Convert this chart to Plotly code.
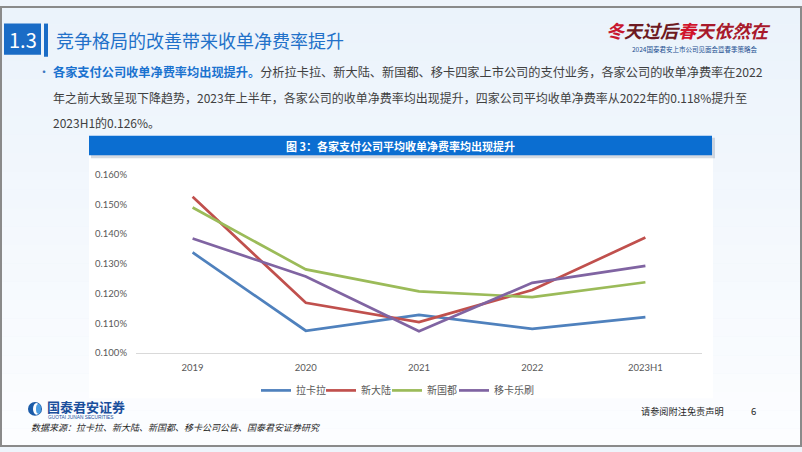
import plotly.graph_objects as go

# ---------------- data ----------------
categories = ["2019", "2020", "2021", "2022", "2023H1"]
series_names = ["拉卡拉", "新大陆", "新国都", "移卡乐刷"]
lakala = [0.1338, 0.1075, 0.1128, 0.1081, 0.1121]
xindalu = [0.1525, 0.1169, 0.1104, 0.1212, 0.1388]
xinguodu = [0.1489, 0.1281, 0.1207, 0.1188, 0.1238]
yika = [0.1385, 0.1257, 0.1073, 0.1236, 0.1293]
y_ticks = [0.100, 0.110, 0.120, 0.130, 0.140, 0.150, 0.160]
y_tick_labels = ["%.3f%%" % v for v in y_ticks]

series_values = [lakala, xindalu, xinguodu, yika]
series_colors = ["#4F81BD", "#C0504D", "#9BBB59", "#8064A2"]

W, H = 802, 452


def px(x):
    return x / W


def py(y):
    return 1 - y / H


CJK = "Noto Sans CJK SC"
AX = "#595959"

legend_ids = ["legend", "legend2", "legend3", "legend4"]
legend_text_x = [298, 363, 429, 496]

fig = go.Figure()
for name, vals, col, lid in zip(series_names, series_values, series_colors, legend_ids):
    fig.add_trace(go.Scatter(
        x=categories, y=vals, name=name, mode="lines",
        line=dict(color=col, width=2.7),
        hoverinfo="skip", legend=lid,
    ))

shapes = []
# background gradient bands (light blue top -> near white bottom)
nb = 24
top = (235, 243, 251)
bot = (252, 253, 255)
for i in range(nb):
    t = i / (nb - 1)
    c = tuple(round(top[k] + (bot[k] - top[k]) * t) for k in range(3))
    shapes.append(dict(type="rect", xref="paper", yref="paper", layer="below",
                       x0=0, x1=1, y0=py(H * (i + 1) / nb), y1=py(H * i / nb),
                       line=dict(width=0), fillcolor="rgb(%d,%d,%d)" % c))
# white chart panel
shapes.append(dict(type="rect", xref="paper", yref="paper", layer="below",
                   x0=px(89), x1=px(713), y0=py(402), y1=py(153),
                   line=dict(width=0), fillcolor="#ffffff"))
# chart title bar shadow + bar
shapes.append(dict(type="rect", xref="paper", yref="paper", layer="below",
                   x0=px(91), x1=px(715), y0=py(156), y1=py(135),
                   line=dict(width=0), fillcolor="rgba(90,110,140,0.25)"))
shapes.append(dict(type="rect", xref="paper", yref="paper", layer="below",
                   x0=px(89), x1=px(712), y0=py(153), y1=py(133),
                   line=dict(width=0), fillcolor="#0B6ED1"))
# header number box and bar
shapes.append(dict(type="rect", xref="paper", yref="paper", layer="below",
                   x0=px(4), x1=px(41), y0=py(50), y1=py(18),
                   line=dict(width=0), fillcolor="#1A6CC6"))
shapes.append(dict(type="rect", xref="paper", yref="paper", layer="below",
                   x0=px(44), x1=px(48), y0=py(52), y1=py(18),
                   line=dict(width=0), fillcolor="#1A6CC6"))
# logo icon
shapes.append(dict(type="circle", xref="paper", yref="paper",
                   x0=px(28), x1=px(42), y0=py(420), y1=py(406),
                   line=dict(width=0), fillcolor="#1B5BA8"))
shapes.append(dict(type="circle", xref="paper", yref="paper",
                   x0=px(33), x1=px(40), y0=py(419), y1=py(407),
                   line=dict(width=0), fillcolor="#ffffff"))
shapes.append(dict(type="circle", xref="paper", yref="paper",
                   x0=px(36), x1=px(41), y0=py(418), y1=py(408),
                   line=dict(width=0), fillcolor="#4A9BE0"))
# frame
shapes.append(dict(type="rect", xref="paper", yref="paper",
                   x0=px(1), x1=px(801), y0=py(451), y1=py(1),
                   line=dict(width=2, color="#8A8A8A"), fillcolor="rgba(0,0,0,0)"))

TXT = "#404040"
BLUE = "#1A72CF"
ann = []


def a(text, x, y, size, color, xanchor="left", weight=None, family=CJK, style=None):
    f = dict(family=family, size=size, color=color)
    if weight:
        f["weight"] = weight
    if style:
        f["style"] = style
    ann.append(dict(text=text, x=px(x), y=py(y), xref="paper", yref="paper",
                    xanchor=xanchor, yanchor="middle", showarrow=False, font=f))


a("1.3", 22.5, 34, 20, "#ffffff", xanchor="center")
a("竞争格局的改善带来收单净费率提升", 54, 35, 18, "#2271C9")
# event logo (top right)
a("<span style='color:#C8172F'>冬</span><span style='color:#6E1A22'>天过后</span>"
  "<span style='color:#D0142C'>春</span><span style='color:#A8192B'>天依然在</span>",
  688, 25, 18, "#C8172F", xanchor="center", weight=600, style="italic")
a("2024国泰君安上市公司见面会暨春季策略会", 694, 44, 6.5, "#1D4F91", xanchor="center")
# bullet text
a("•", 36, 67, 12, "#3C78C0")
a("<b><span style='color:%s'>各家支付公司收单净费率均出现提升。</span></b>"
  "分析拉卡拉、新大陆、新国都、移卡四家上市公司的支付业务，各家公司的收单净费率在2022" % BLUE,
  51, 68, 12.2, TXT)
a("年之前大致呈现下降趋势，2023年上半年，各家公司的收单净费率均出现提升，"
  "四家公司平均收单净费率从2022年的0.118%提升至", 51, 94, 12.0, TXT)
a("2023H1的0.126%。", 51, 119, 12.0, TXT)
# chart title
a("图 3：各家支付公司平均收单净费率均出现提升", 400, 143, 11, "#ffffff",
  xanchor="center", weight=700)
# footer
a("国泰君安证券", 45, 411, 13, "#1B4F9C", weight=700)
a("GUOTAI JUNAN SECURITIES", 46, 422, 4.8, "#1B4F9C", family="Liberation Sans")
a("数据来源：拉卡拉、新大陆、新国都、移卡公司公告、国泰君安证券研究", 29, 432, 9, "#262626",
  style="italic")
a("请参阅附注免责声明", 639, 415, 9.2, "#262626")
a("6", 749, 415, 9.5, "#262626")

layout_legends = {}
for lid, tx in zip(legend_ids, legend_text_x):
    layout_legends[lid] = dict(
        orientation="h", x=px(tx - 42), xanchor="left", y=py(394), yanchor="middle",
        font=dict(family=CJK, size=10, color=AX), bgcolor="rgba(0,0,0,0)",
        itemwidth=30,
    )

fig.update_layout(
    width=W, height=H,
    margin=dict(l=0, r=0, t=0, b=0),
    paper_bgcolor="#EEF4FB",
    plot_bgcolor="rgba(0,0,0,0)",
    showlegend=True,
    xaxis=dict(domain=[px(136), px(702)], type="category", range=[-0.5, 4.5],
               showgrid=False, zeroline=False, showline=True, linecolor="#D9D9D9",
               linewidth=1, ticks="", tickfont=dict(family="Lato", size=9.5, color=AX),
               ticklabelstandoff=6, fixedrange=True),
    yaxis=dict(domain=[py(355.7), py(172.7)], range=[0.100, 0.160],
               tickvals=y_ticks, ticktext=y_tick_labels,
               showgrid=False, zeroline=False, showline=False, ticks="",
               tickfont=dict(family="Lato", size=9.5, color=AX),
               ticklabelstandoff=8, fixedrange=True),
    shapes=shapes,
    annotations=ann,
    **layout_legends,
)

fig.write_html("out.html", config={"displayModeBar": False},
               post_script="document.body.style.margin='0';")
